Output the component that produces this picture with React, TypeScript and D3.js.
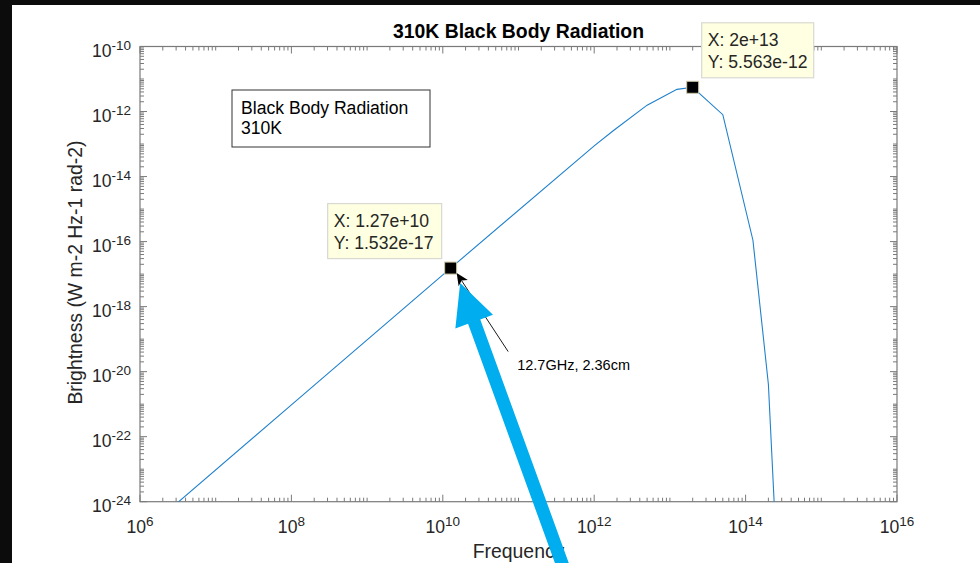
import React from 'react';
import * as d3 from 'd3';

// curve samples (frequency in Hz, brightness)
const FREQ_HZ = [1e6, 1e8, 1.27e10, 1e12, 1.8e12, 5e12, 1.24e13, 2e13, 5e13, 1.25e14, 2e14, 5e14];
const BRIGHTNESS = [9.5e-26, 9.5e-22, 1.532e-17, 8.8e-14, 2.6e-13, 1.57e-12, 4.8e-12, 5.563e-12, 8.0e-13, 1.1e-16, 4.1e-21, 4.4e-40];

const X_TICK_EXPONENTS = [6, 8, 10, 12, 14, 16];
const Y_TICK_EXPONENTS = [-24, -22, -20, -18, -16, -14, -12, -10];

const TIP_X = [2e13, 1.27e10];
const TIP_Y = [5.563e-12, 1.532e-17];
const TIP_LABELS = [['X: 2e+13', 'Y: 5.563e-12'], ['X: 1.27e+10', 'Y: 1.532e-17']];

const TITLE = '310K Black Body Radiation';
const X_LABEL = 'Frequency';
const Y_LABEL = 'Brightness (W m-2 Hz-1 rad-2)';
const BOX_LINES = ['Black Body Radiation', '310K'];
const NOTE = '12.7GHz, 2.36cm';

const FONT = '"Liberation Sans", Arial, Helvetica, sans-serif';
const TXT = '#262626';
const AXC = '#7a7a7a';

const W = 980;
const H = 563;
const L = 140, R = 897, T = 46.5, B = 501.7;

export default function App() {
  const x = d3.scaleLog().domain([1e6, 1e16]).range([L, R]);
  const y = d3.scaleLog().domain([1e-24, 1e-10]).range([B, T]);

  const pts = FREQ_HZ.map((f, i) => [f, BRIGHTNESS[i]] as [number, number]);
  const line = d3.line<[number, number]>().x(d => x(d[0])).y(d => y(d[1]));

  // tick marks (inward, mirrored on top/right)
  let ticks = '';
  for (let e = 6; e <= 16; e++) {
    for (let m = 1; m <= 9; m++) {
      if (e === 16 && m > 1) break;
      const v = m * Math.pow(10, e);
      const px = x(v);
      const len = m === 1 && e % 2 === 0 ? 7 : 4;
      ticks += `M${px},${B}v${-len}M${px},${T}v${len}`;
    }
  }
  for (let e = -24; e <= -10; e++) {
    for (let m = 1; m <= 9; m++) {
      if (e === -10 && m > 1) break;
      const v = m * Math.pow(10, e);
      const py = y(v);
      const len = m === 1 && e % 2 === 0 ? 7 : 4;
      ticks += `M${L},${py}h${len}M${R},${py}h${-len}`;
    }
  }

  // data tip geometry
  const tips = TIP_X.map((tx, i) => {
    const mx = x(tx), my = y(TIP_Y[i]);
    const w = i === 0 ? 112 : 114;
    const h = 55;
    const bx = i === 0 ? mx + 9 : mx - 9 - w;
    const by = my - 9.5 - h;
    return { mx, my, bx, by, w, h, lines: TIP_LABELS[i] };
  });

  // annotation arrow to the 12.7 GHz point
  const p = tips[1];
  const aTip: [number, number] = [p.mx + 6, p.my + 5];
  const aStart: [number, number] = [p.mx + 57.5, p.my + 83.5];
  const adx = aTip[0] - aStart[0], ady = aTip[1] - aStart[1];
  const alen = Math.hypot(adx, ady);
  const au = [adx / alen, ady / alen];
  const an = [-au[1], au[0]];
  const hl = 12, hw = 5.5;
  const head = [
    aTip,
    [aTip[0] - au[0] * hl + an[0] * hw, aTip[1] - au[1] * hl + an[1] * hw],
    [aTip[0] - au[0] * (hl - 3), aTip[1] - au[1] * (hl - 3)],
    [aTip[0] - au[0] * hl - an[0] * hw, aTip[1] - au[1] * hl - an[1] * hw],
  ];
  const lineEnd = [aTip[0] - au[0] * (hl - 3), aTip[1] - au[1] * (hl - 3)];

  // big cyan arrow
  const cTip: [number, number] = [p.mx + 9.5, p.my + 15];
  const cTail: [number, number] = [cTip[0] + 105, cTip[1] + 289];
  const cdx = cTip[0] - cTail[0], cdy = cTip[1] - cTail[1];
  const clen = Math.hypot(cdx, cdy);
  const cu = [cdx / clen, cdy / clen];
  const cn = [-cu[1], cu[0]];
  const cHeadLen = 41, cHeadHalf = 20, cShaft = 6.5;
  const cb = [cTip[0] - cu[0] * cHeadLen, cTip[1] - cu[1] * cHeadLen];
  const cyanPoly = [
    cTip,
    [cb[0] + cn[0] * cHeadHalf, cb[1] + cn[1] * cHeadHalf],
    [cb[0] + cn[0] * cShaft, cb[1] + cn[1] * cShaft],
    [cTail[0] + cn[0] * cShaft, cTail[1] + cn[1] * cShaft],
    [cTail[0] - cn[0] * cShaft, cTail[1] - cn[1] * cShaft],
    [cb[0] - cn[0] * cShaft, cb[1] - cn[1] * cShaft],
    [cb[0] - cn[0] * cHeadHalf, cb[1] - cn[1] * cHeadHalf],
  ];

  return (
    <svg width={W} height={H} style={{ position: 'absolute', left: 0, top: 0, display: 'block' }}
      fontFamily={FONT}>
      <defs>
        <clipPath id="plotClip">
          <rect x={L} y={T} width={R - L} height={B - T} />
        </clipPath>
      </defs>
      <rect x={0} y={0} width={W} height={H} fill="#0c0c0c" />
      <rect x={12} y={5} width={W - 12} height={H - 5} fill="#ffffff" />

      {/* axes box and ticks */}
      <rect x={L} y={T} width={R - L} height={B - T} fill="#ffffff" stroke={AXC} strokeWidth={1.2} />
      <path d={ticks} stroke={AXC} strokeWidth={1} fill="none" />

      {/* tick labels */}
      {X_TICK_EXPONENTS.map(e => (
        <text key={'x' + e} x={x(Math.pow(10, e))} y={B + 31} textAnchor="middle" fontSize={17.6} fill={TXT}>
          10<tspan dy={-6.5} fontSize={13.5}>{e}</tspan>
        </text>
      ))}
      {Y_TICK_EXPONENTS.map(e => (
        <text key={'y' + e} x={131} y={y(Math.pow(10, e)) + 10} textAnchor="end" fontSize={17.6} fill={TXT}>
          10<tspan dy={-6.5} fontSize={13.5}>{e}</tspan>
        </text>
      ))}

      {/* curve */}
      <path d={line(pts) || ''} fill="none" stroke="#1f80cc" strokeWidth={1.1} clipPath="url(#plotClip)" />

      {/* title and labels */}
      <text x={(L + R) / 2} y={38.3} textAnchor="middle" fontSize={19.4} fontWeight="bold" fill="#000">{TITLE}</text>
      <text x={(L + R) / 2} y={557.5} textAnchor="middle" fontSize={19.4} fill={TXT}>{X_LABEL}</text>
      <text transform={`translate(82,${(T + B) / 2 - 1.5}) rotate(-90)`} textAnchor="middle" fontSize={19.4} fill={TXT}>{Y_LABEL}</text>

      {/* legend-like text box */}
      <rect x={232} y={90} width={198} height={57} fill="#ffffff" stroke="#333333" strokeWidth={1} />
      {BOX_LINES.map((t, i) => (
        <text key={t} x={241} y={114.3 + i * 20} fontSize={17.6} fill="#000">{t}</text>
      ))}

      {/* data tips */}
      {tips.map((tp, i) => (
        <g key={'tip' + i}>
          <rect x={tp.bx} y={tp.by} width={tp.w} height={tp.h} fill="#ffffe1" stroke="#d9d9d2" strokeWidth={1.2} />
          {tp.lines.map((t, j) => (
            <text key={t} x={tp.bx + 6} y={tp.by + 23.5 + j * 22} fontSize={17.6} fill={TXT}>{t}</text>
          ))}
          <rect x={tp.mx - 6} y={tp.my - 6} width={12} height={12} fill="#000" stroke="#cfcaa8" strokeWidth={1} />
        </g>
      ))}

      {/* annotation arrow */}
      <line x1={aStart[0]} y1={aStart[1]} x2={lineEnd[0]} y2={lineEnd[1]} stroke="#000" strokeWidth={0.9} />
      <polygon points={head.map(q => q.join(',')).join(' ')} fill="#000" />
      <text x={p.mx + 66.5} y={p.my + 101.5} fontSize={14.5} fill="#000">{NOTE}</text>

      {/* overlay cyan arrow */}
      <polygon points={cyanPoly.map(q => q.join(',')).join(' ')} fill="#00aeef" />
    </svg>
  );
}
